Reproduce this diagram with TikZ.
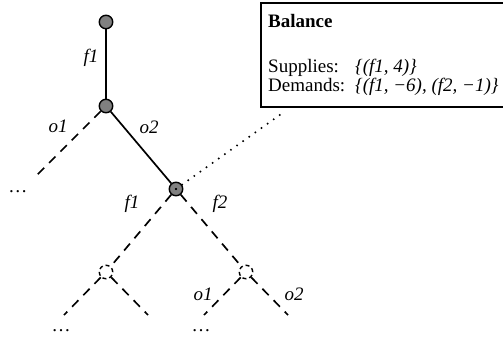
\documentclass[tikz,border=0pt]{standalone}
\usepackage{fontspec}
\setmainfont{Liberation Serif}
\usetikzlibrary{positioning}
\definecolor{nodegray}{HTML}{808080}
\tikzset{
  solved/.style={
    circle, draw=black, fill=nodegray, line width=1.4pt,
    minimum size=13.5pt, inner sep=0pt
  },
  open/.style={
    circle, draw=black, line width=1.4pt,
    dash pattern=on 4pt off 3pt,
    minimum size=13.5pt, inner sep=0pt
  },
  taken/.style={line width=1.7pt},
  untaken/.style={line width=1.7pt, dash pattern=on 9pt off 7pt},
  link/.style={line width=2.2pt, line cap=round, dash pattern=on 0pt off 7.5pt},
  arclabel/.style={font=\fontsize{19}{21}\selectfont\itshape, inner sep=0pt},
  moredots/.style={font=\fontsize{19}{21}\selectfont, inner sep=0pt},
  infobox/.style={rectangle, draw=black, fill=white, line width=2pt,
    minimum width=280pt, minimum height=104pt, anchor=north west, inner sep=0pt},
  infotext/.style={font=\fontsize{19}{21}\selectfont, anchor=base west, inner sep=0pt},
}
\begin{document}
\begin{tikzpicture}[x=1pt, y=-1pt]
  \useasboundingbox (0,0) rectangle (503,338);

  % tree nodes
  \node[solved] (root) at (106,22) {};
  \node[solved] (n1) at (106,106) {};
  \node[solved] (n2) at (176,189) {};
  \node[open] (n3) at (106,272) {};
  \node[open] (n4) at (246,272) {};
  \fill (n2.center) circle (1.1pt);

  % loose ends
  \coordinate (e1) at (36,176);
  \coordinate (e3l) at (64,315);
  \coordinate (e3r) at (148,315);
  \coordinate (e4l) at (204,315);
  \coordinate (e4r) at (288,315);
  \coordinate (dotend) at (284,112);

  \draw[taken] (root) -- (n1);
  \draw[taken] (n1) -- (n2);
  \draw[untaken] (n1) -- (e1);
  \draw[untaken] (n2) -- (n3);
  \draw[untaken] (n2) -- (n4);
  \draw[untaken] (n3) -- (e3l);
  \draw[untaken] (n3) -- (e3r);
  \draw[untaken] (n4) -- (e4l);
  \draw[untaken] (n4) -- (e4r);
  \draw[link] (n2.center) -- (dotend);

  % arc labels
  \node[arclabel] (lf1) at (91,58) {f1};
  \node[arclabel] (lo1) at (58,126) {o1};
  \node[arclabel] (lo2) at (149,127) {o2};
  \node[arclabel] (lf1b) at (132,204) {f1};
  \node[arclabel] (lf2) at (220,204) {f2};
  \node[arclabel] (lo1b) at (203,294) {o1};
  \node[arclabel] (lo2b) at (294,294) {o2};

  \node[moredots] (d1) at (18,192) {…};
  \node[moredots] (d2) at (61,331) {…};
  \node[moredots] (d3) at (201,331) {…};

  % balance box
  \node[infobox] (balance) at (260,2) {};
  \node[infotext, font=\fontsize{19}{21}\selectfont\bfseries] (baltitle) at (268,27) {Balance};
  \node[infotext] (suplabel) at (268,72) {Supplies:};
  \node[infotext] (supval) at (355,72) {\itshape\{(f1, 4)\}};
  \node[infotext] (demlabel) at (268,91) {Demands:};
  \node[infotext] (demval) at (355,91) {\itshape\{(f1, −6), (f2, −1)\}};
\end{tikzpicture}
\end{document}
